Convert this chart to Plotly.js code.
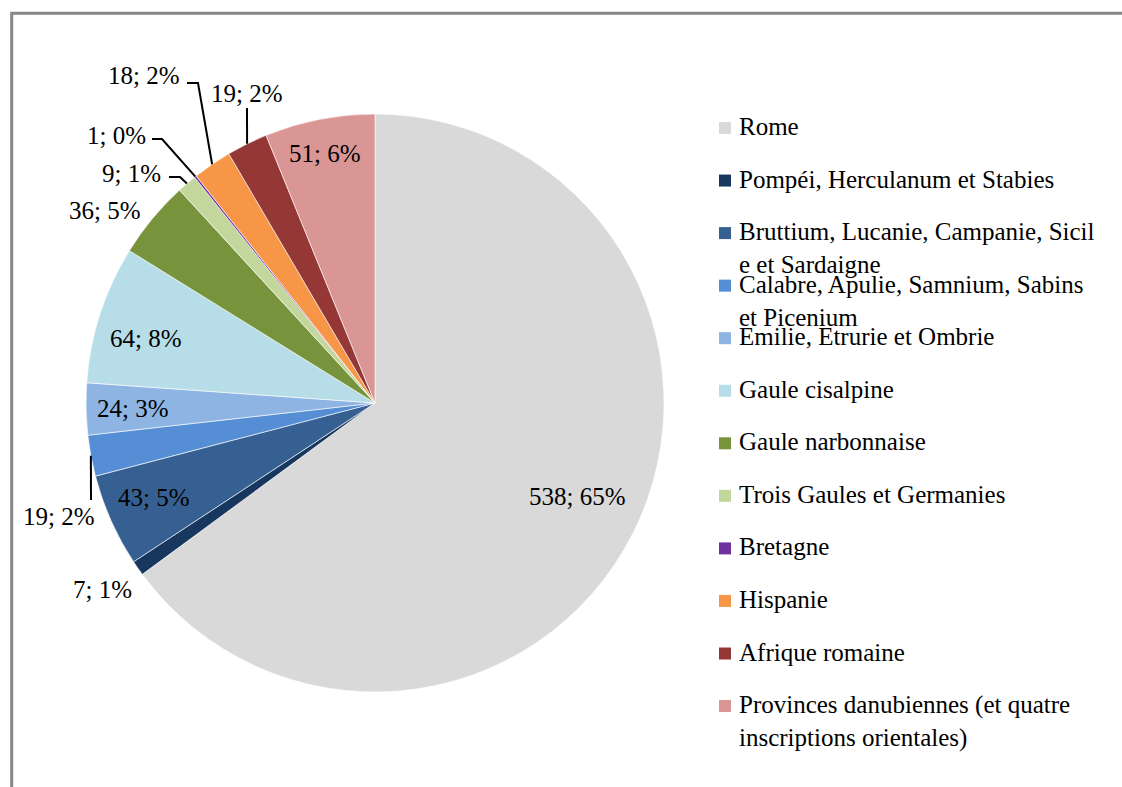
<!DOCTYPE html>
<html><head><meta charset="utf-8">
<script src="https://cdn.plot.ly/plotly-3.0.1.min.js"></script>
<style>html,body{margin:0;padding:0;background:#fff}</style>
</head><body><div id="chart" style="width:1122px;height:787px"></div>
<script>
// ---- data ----
const regions = [
  "Rome",
  "Pompéi, Herculanum et Stabies",
  "Bruttium, Lucanie, Campanie, Sicile et Sardaigne",
  "Calabre, Apulie, Samnium, Sabins et Picenium",
  "Emilie, Etrurie et Ombrie",
  "Gaule cisalpine",
  "Gaule narbonnaise",
  "Trois Gaules et Germanies",
  "Bretagne",
  "Hispanie",
  "Afrique romaine",
  "Provinces danubiennes (et quatre inscriptions orientales)"
];
const counts = [538, 7, 43, 19, 24, 64, 36, 9, 1, 18, 19, 51];
const legendLabels = [
  "Rome",
  "Pompéi, Herculanum et Stabies",
  "Bruttium, Lucanie, Campanie, Sicil<br>e et Sardaigne",
  "Calabre, Apulie, Samnium, Sabins<br>et Picenium",
  "Emilie, Etrurie et Ombrie",
  "Gaule cisalpine",
  "Gaule narbonnaise",
  "Trois Gaules et Germanies",
  "Bretagne",
  "Hispanie",
  "Afrique romaine",
  "Provinces danubiennes (et quatre<br>inscriptions orientales)"
];
const colors = ["#d9d9d9","#17375e","#376092","#558ed5","#8eb4e3","#b7dee8",
                "#77933c","#c3d69b","#7030a0","#f79646","#953735","#d99694"];

// ---- layout constants (pixels) ----
const W = 1122, H = 787;
const CX = 375, CY = 403, R = 289;
const FONT = "'Liberation Serif', Tinos, 'Times New Roman', 'Nimbus Roman', 'Nimbus Roman No9 L', FreeSerif, 'Noto Serif', 'DejaVu Serif', serif";
const FS = 25;
// label text centres (pixels)
const labelPos = [[577,496],[102,589],[154,497],[59,516],[133,408],[146,338],
                  [105,210],[131,173],[116,135],[144,75],[247,94],[325,154]];
// leader line elbows (pixels), starting point comes from the slice angle
const leaders = {3: [[91,500]], 7: [[180,177],[169,177]], 8: [[162,139],[152,139]],
                 9: [[198,83],[187,83]], 10: [[247,108]]};
const LEG_X = 719, LEG_Y0 = 128, LEG_STEP = 52.55, SQ = 12;

const px = x => x / W, py = y => 1 - y / H;

// Excel-style percentages (largest remainder, sum to 100)
const total = counts.reduce((a, b) => a + b, 0);
const raw = counts.map(v => v * 100 / total);
const pct = raw.map(Math.floor);
let rest = 100 - pct.reduce((a, b) => a + b, 0);
raw.map((r, i) => [r - Math.floor(r), i]).sort((a, b) => b[0] - a[0])
   .slice(0, rest).forEach(([_, i]) => pct[i] += 1);

const trace = {
  type: "pie", labels: regions, values: counts, sort: false,
  direction: "clockwise", rotation: 0,
  marker: {colors: colors, line: {color: "#ffffff", width: 0.6}},
  textinfo: "none", hoverinfo: "label+value+percent",
  domain: {x: [px(CX - R), px(CX + R)], y: [py(CY + R), py(CY - R)]},
  showlegend: false
};

const annotations = [], shapes = [];
let cum = 0;
counts.forEach((v, i) => {
  const th = 2 * Math.PI * (cum + v / 2) / total;
  cum += v;
  annotations.push({
    xref: "paper", yref: "paper", x: px(labelPos[i][0]), y: py(labelPos[i][1]),
    xanchor: "center", yanchor: "middle", showarrow: false,
    text: counts[i] + "; " + pct[i] + "%",
    font: {family: FONT, size: FS, color: "#000"}
  });
  if (leaders[i]) {
    const ex = CX + R * Math.sin(th), ey = CY - R * Math.cos(th);
    let path = "M" + px(ex) + "," + py(ey);
    leaders[i].forEach(p => { path += " L" + px(p[0]) + "," + py(p[1]); });
    shapes.push({type: "path", xref: "paper", yref: "paper", path: path,
                 line: {color: "#000", width: 2}});
  }
});

// legend drawn from the data arrays
legendLabels.forEach((lab, i) => {
  const yc = LEG_Y0 + i * LEG_STEP;
  shapes.push({type: "rect", xref: "paper", yref: "paper",
    x0: px(LEG_X), x1: px(LEG_X + SQ), y0: py(yc - SQ / 2), y1: py(yc + SQ / 2),
    fillcolor: colors[i], line: {width: 0}});
  annotations.push({xref: "paper", yref: "paper", x: px(737), y: py(yc - 17),
    xanchor: "left", yanchor: "top", align: "left", showarrow: false,
    text: lab, font: {family: FONT, size: FS, color: "#000"}});
});

// outer chart border
shapes.push({type: "rect", xref: "paper", yref: "paper",
  x0: px(11.7), y0: py(13.3), x1: 1.05, y1: -0.05,
  line: {color: "#878787", width: 3}, fillcolor: "rgba(0,0,0,0)"});

Plotly.newPlot("chart", [trace], {
  width: W, height: H, margin: {l: 0, r: 0, t: 0, b: 0},
  font: {family: FONT},
  paper_bgcolor: "#ffffff", plot_bgcolor: "#ffffff",
  annotations: annotations, shapes: shapes
}, {displayModeBar: false, staticPlot: true});
</script></body></html>
